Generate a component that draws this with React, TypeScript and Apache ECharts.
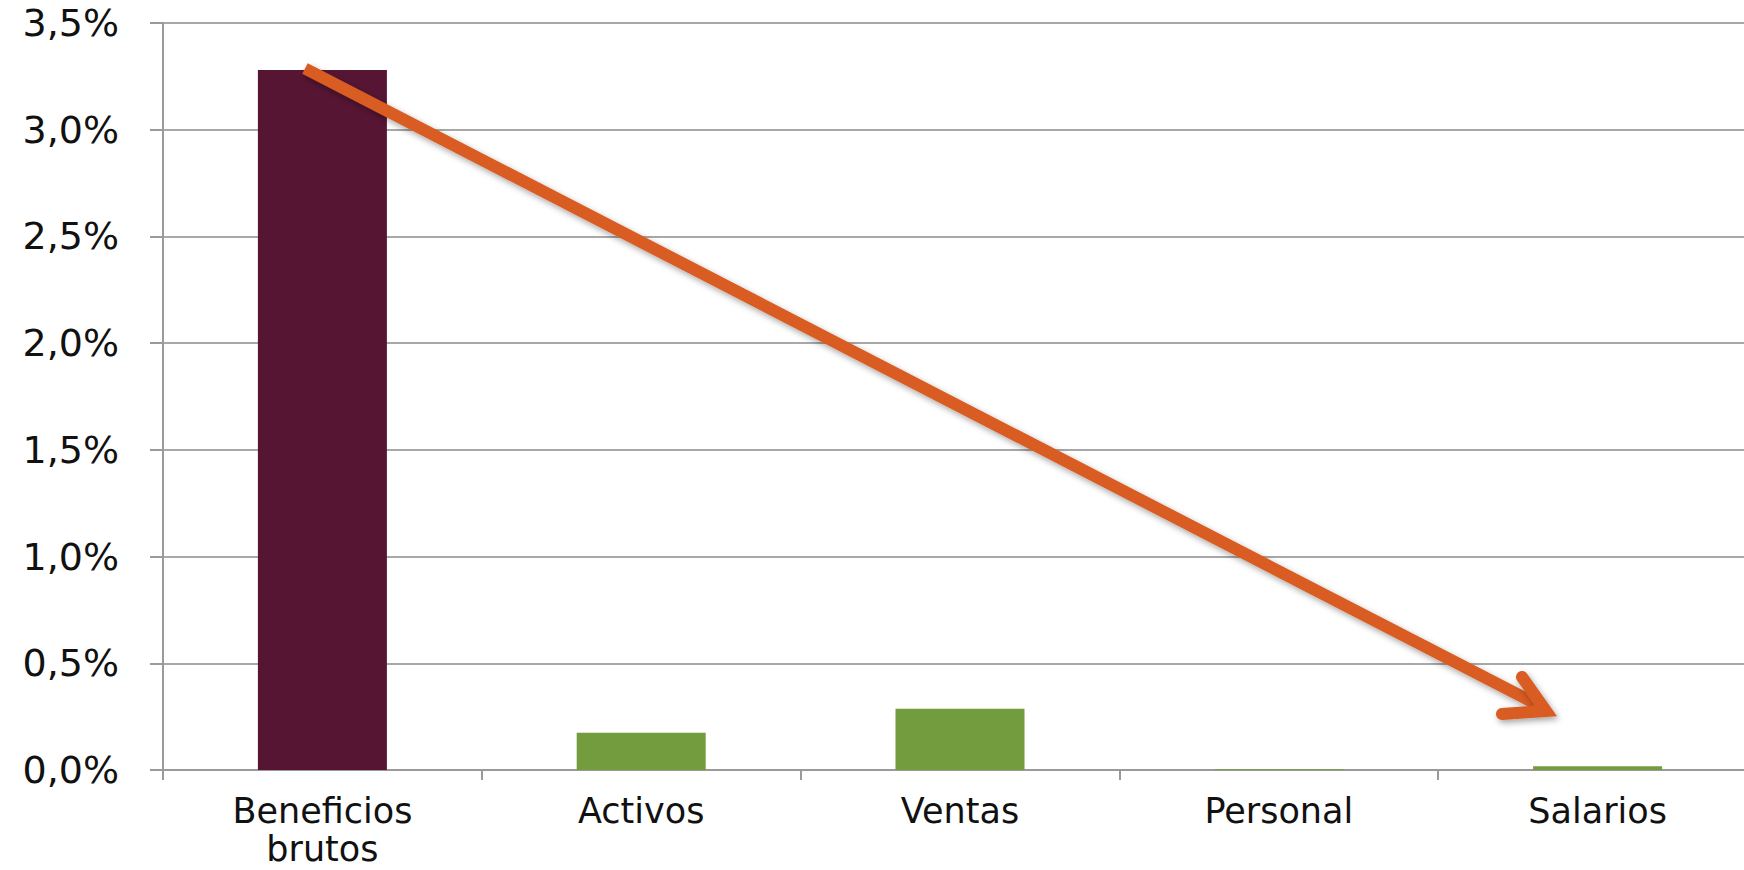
import React, { useEffect, useRef } from "react";
import * as echarts from "echarts";

const categories = ["Beneficios\nbrutos", "Activos", "Ventas", "Personal", "Salarios"];
const values = [3.28, 0.175, 0.287, 0.004, 0.018];
const barColors = ["#561533", "#729C3E", "#729C3E", "#729C3E", "#729C3E"];
const yTicks = { min: 0, max: 3.5, interval: 0.5 };

export default function App() {
  const ref = useRef<HTMLDivElement>(null);
  useEffect(() => {
    if (!ref.current) return;
    const chart = echarts.init(ref.current, null, { renderer: "svg" });
    const arrowColor = "#D95B24";
    const shadow = {
      shadowBlur: 6,
      shadowOffsetX: 2,
      shadowOffsetY: 3,
      shadowColor: "rgba(0,0,0,0.35)",
    };
    chart.setOption({
      animation: false,
      backgroundColor: "#ffffff",
      grid: {
        left: 163,
        width: 1594,
        top: 23,
        height: 747,
        containLabel: false,
        outerBoundsMode: "none",
      },
      xAxis: {
        type: "category",
        data: categories,
        axisLine: { lineStyle: { color: "#9a9a9a", width: 2 } },
        axisTick: { show: true, length: 10, lineStyle: { color: "#9a9a9a", width: 2 } },
        axisLabel: {
          margin: 22,
          fontFamily: "DejaVu Sans",
          fontSize: 35,
          lineHeight: 38,
          color: "#111111",
          hideOverlap: false,
        },
      },
      yAxis: {
        type: "value",
        min: yTicks.min,
        max: yTicks.max,
        interval: yTicks.interval,
        axisLine: { show: true, lineStyle: { color: "#9a9a9a", width: 2 } },
        axisTick: { show: true, length: 13, lineStyle: { color: "#9a9a9a", width: 2 } },
        splitLine: { show: true, lineStyle: { color: "#a8a8a8", width: 2 } },
        axisLabel: {
          margin: 44,
          fontFamily: "DejaVu Sans",
          fontSize: 38,
          color: "#111111",
          formatter: (v: number) => v.toFixed(1).replace(".", ",") + "%",
        },
      },
      series: [
        {
          type: "bar",
          barWidth: 129,
          data: values.map((v, i) => ({ value: v, itemStyle: { color: barColors[i] } })),
        },
      ],
      graphic: [
        {
          type: "line",
          z: 100,
          shape: { x1: 305, y1: 68.5, x2: 1542, y2: 707 },
          style: { stroke: arrowColor, lineWidth: 12, lineCap: "butt", ...shadow },
        },
        {
          type: "polyline",
          z: 100,
          shape: { points: [[1522, 677], [1546, 711], [1502, 714]] },
          style: {
            stroke: arrowColor,
            fill: null,
            lineWidth: 12,
            lineCap: "round",
            lineJoin: "miter",
            ...shadow,
          },
        },
      ],
    });
    return () => chart.dispose();
  }, []);
  return (
    <div
      ref={ref}
      style={{ position: "absolute", left: 0, top: 0, width: 1744, height: 870 }}
    />
  );
}
